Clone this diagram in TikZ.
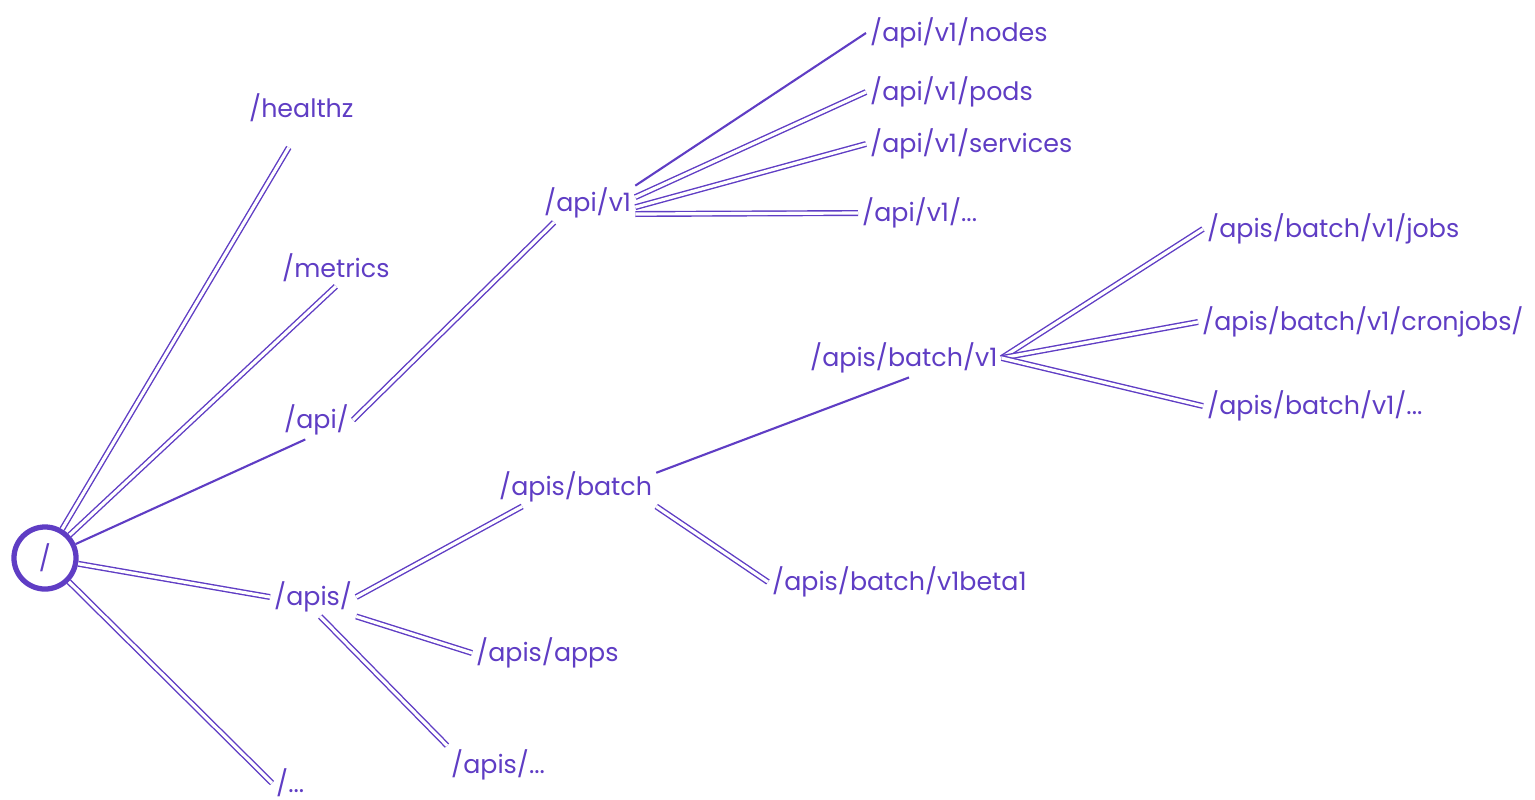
\documentclass[tikz,border=0pt]{standalone}
\usepackage{fontspec}
\setmainfont{Poppins}
\usetikzlibrary{arrows.meta}
\definecolor{k8sviolet}{HTML}{5F3DC4}
\tikzset{
    every edge/.style={draw=k8sviolet,line width=0.6pt},
    twin/.style={line width=0.4pt,double=white,double distance=0.9pt},
    route/.style={anchor=west,text=k8sviolet,inner sep=1pt,font=\fontsize{7.2}{8}\selectfont},
    root/.style={circle,draw=k8sviolet,line width=1.5pt,minimum size=0.62cm,inner sep=0pt,
        text=k8sviolet,font=\fontsize{7.2}{8}\selectfont},
}

\begin{document}
\begin{tikzpicture}[x=0.01cm,y=-0.01cm]
    \useasboundingbox (0,0) rectangle (1535,799);

    \node[root] (root) at (45,558) {/};

    % first level
    \node[route] (healthz) at (245,108) {/healthz};
    \node[route] (metrics) at (278,268) {/metrics};
    \node[route] (api) at (280,420) {/api/};
    \node[route] (apis) at (270,597) {/apis/};
    \node[route] (rootdots) at (272,783) {/...};

    % core group
    \node[route] (apiv1) at (540,203) {/api/v1};
    \node[route] (nodes) at (866,33) {/api/v1/nodes};
    \node[route] (pods) at (866,92) {/api/v1/pods};
    \node[route] (services) at (866,144) {/api/v1/services};
    \node[route] (apiv1dots) at (858,213) {/api/v1/...};

    % named groups
    \node[route] (batch) at (495,487) {/apis/batch};
    \node[route] (apps) at (472,653) {/apis/apps};
    \node[route] (apisdots) at (447,765) {/apis/...};
    \node[route] (batchv1) at (806,358) {/apis/batch/v1};
    \node[route] (v1beta1) at (768,582) {/apis/batch/v1beta1};
    \node[route] (jobs) at (1203,229) {/apis/batch/v1/jobs};
    \node[route] (cronjobs) at (1198,322) {/apis/batch/v1/cronjobs/};
    \node[route] (batchdots) at (1203,406) {/apis/batch/v1/...};

    \path
    (root) edge[twin,shorten >=7pt] (healthz.south)
    (root) edge[twin] (metrics.south)
    (root) edge (api.-120)
    (root) edge[twin] (apis.west)
    (root) edge[twin] (rootdots.west)
    (api.east) edge[twin] (apiv1.-150)
    (apiv1.20) edge (nodes.west)
    (apiv1.7) edge[twin] (pods.west)
    (apiv1.-5) edge[twin] (services.west)
    (apiv1.-13) edge[twin] (apiv1dots.west)
    (apis.east) edge[twin] (batch.-160)
    (apis.south east) edge[twin] (apps.west)
    (apis.-70) edge[twin] (apisdots.north west)
    (batch.10) edge (batchv1.-75)
    (batch.south east) edge[twin] (v1beta1.west)
    (batchv1.east) edge[twin] (jobs.west)
    (batchv1.east) edge[twin] (cronjobs.west)
    (batchv1.east) edge[twin] (batchdots.west);
\end{tikzpicture}
\end{document}
